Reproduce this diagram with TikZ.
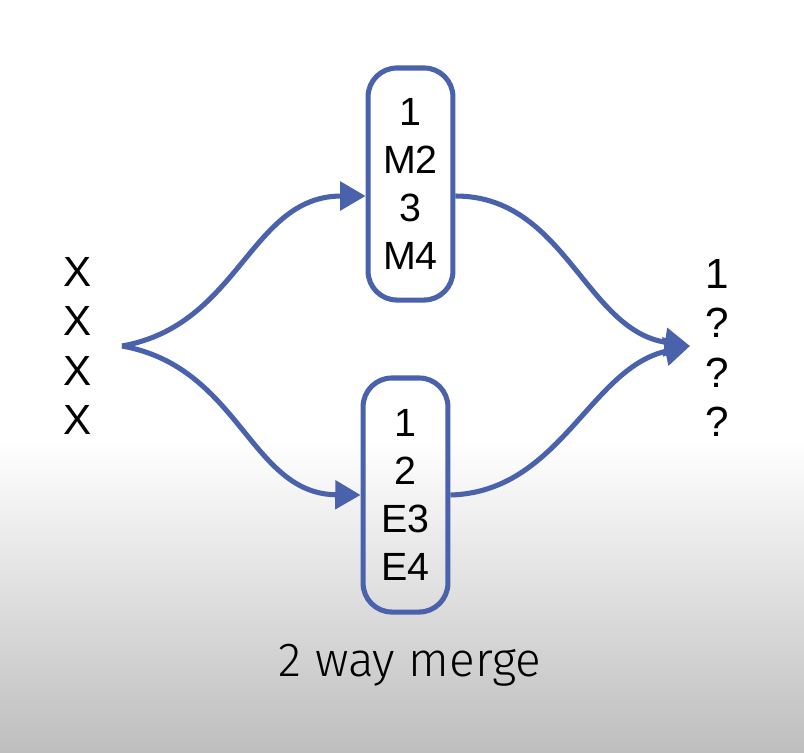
\documentclass[tikz,border=0pt]{standalone}
\usepackage{fontspec}
\setmainfont{Liberation Sans}
\newfontfamily\thinfont{Fira Sans Light}
\usetikzlibrary{arrows.meta,calc,positioning}
\definecolor{mergeblue}{RGB}{74,98,172}
\definecolor{bggray}{RGB}{190,190,190}

\begin{document}
\begin{tikzpicture}[x=0.025cm,y=-0.025cm,>={Triangle[length=18pt,width=20pt]},
	runbox/.style={draw=mergeblue,line width=3.6pt,rounded corners=0.72cm,minimum width=2.12cm,minimum height=5.8cm,align=center,inner sep=0pt,font=\fontsize{28}{34}\selectfont},
	flow/.style={draw=mergeblue,line width=3.6pt,->},
	sidecol/.style={align=center,inner sep=0pt,font=\fontsize{30}{35}\selectfont}]
		% 背景
		\useasboundingbox (0,0) rectangle (804,752);
		\fill[white] (0,0) rectangle (804,441);
		\shade[top color=white,bottom color=bggray] (0,440) rectangle (804,752);
		% 两路输入
		\node[runbox] (top) at (410.5,184) {1\\ M2\\ 3\\ M4};
		\node[runbox,minimum height=5.85cm] (bot) at (405.5,495) {1\\ 2\\ E3\\ E4};
		% 左右两列
		\node[sidecol] (src) at (78,346) {X\\ X\\ X\\ X};
		\node[sidecol] (dst) at (717,348) {1\\ ?\\ ?\\ ?};
		\coordinate (split) at (122,346);
		\coordinate (join) at (690,346);
		% 曲线
		\draw[flow] (split) .. controls (240,325) and (250,196) .. ($(top.west)+(0,12)$);
		\draw[flow] (split) .. controls (240,367) and (250,494) .. (bot.west);
		\draw[flow] ($(top.east)+(0,12)$) .. controls (565,196) and (585,330) .. (join);
		\draw[flow] (bot.east) .. controls (560,492) and (590,368) .. (join);
		\node[font=\thinfont\fontsize{34}{40}\selectfont] (caption) at (410,665) {2 way merge};
\end{tikzpicture}
\end{document}
